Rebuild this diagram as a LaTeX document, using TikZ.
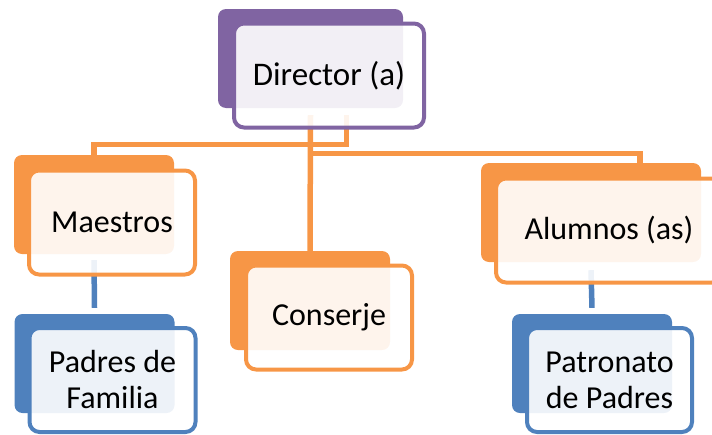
\documentclass[tikz,border=0pt]{standalone}
\usepackage{fontspec}
\setmainfont{Carlito}
\definecolor{dirpurple}{RGB}{128,100,162}
\definecolor{staforange}{RGB}{247,150,70}
\definecolor{famblue}{RGB}{79,129,189}
\pgfdeclarelayer{background}
\pgfsetlayers{background,main}
\tikzset{
	backbox/.style = {
		shape=rectangle,
		rounded corners=8pt,
		fill=#1,
		minimum height=99pt,
		inner sep=0pt
	},
	frontbox/.style = {
		shape=rectangle,
		rounded corners=10pt,
		draw=#1,
		line width=4pt,
		fill=white,
		fill opacity=0.9,
		text opacity=1,
		align=center,
		inner sep=0pt,
		minimum height=104pt,
		font=\fontsize{32}{36}\selectfont
	},
	link/.style = {
		draw=#1,
		line width=5.5pt
	}
}

\begin{document}
\begin{tikzpicture}[x=1pt, y=-1pt]
		\useasboundingbox (0,0) rectangle (712,434);
		% boxes behind
		\node[backbox=dirpurple, minimum width=185pt] (dirback) at (310.5,58.5) {};
		\node[backbox=staforange, minimum width=160pt] (maeback) at (94,204.5) {};
		\node[backbox=staforange, minimum width=160pt] (conback) at (310,300.5) {};
		\node[backbox=staforange, minimum width=220pt] (aluback) at (591,212.5) {};
		\node[backbox=famblue, minimum width=160pt] (padback) at (94.5,363.5) {};
		\node[backbox=famblue, minimum width=160pt] (patback) at (592,363.5) {};
		% connectors, under the boxes
		\begin{pgfonlayer}{background}
			\draw[link=staforange] ([xshift=36pt, yshift=-7pt]dirback.south)
				-- ([xshift=36pt, yshift=-36.5pt]dirback.south) -| (maeback.north);
			\draw[link=staforange] ([yshift=-7pt]dirback.south) -- (conback.north);
			\draw[link=staforange] ([yshift=-45.5pt]dirback.south)
				-| ([xshift=49pt]aluback.north);
			\draw[link=famblue] ([yshift=-6pt]maeback.south) -- ([yshift=6pt]padback.north);
			\draw[link=famblue] ([yshift=-8pt]aluback.south) -- ([yshift=6pt]patback.north);
		\end{pgfonlayer}
		% boxes in front
		\node[frontbox=dirpurple, minimum width=190pt, font=\fontsize{33}{36}\selectfont] (director) at (329,75.5) {Director (a)};
		\node[frontbox=staforange, minimum width=166pt] (maestros) at (112,222.5) {Maestros};
		\node[frontbox=staforange, minimum width=166pt] (conserje) at (329,317.5) {Conserje};
		\node[frontbox=staforange, minimum width=226pt] (alumnos) at (609,230.5) {Alumnos (as)};
		\node[frontbox=famblue, minimum width=166pt] (padres) at (112.5,380) {Padres de\\Familia};
		\node[frontbox=famblue, minimum width=165pt] (patronato) at (609.5,380) {Patronato\\de Padres};
\end{tikzpicture}
\end{document}
